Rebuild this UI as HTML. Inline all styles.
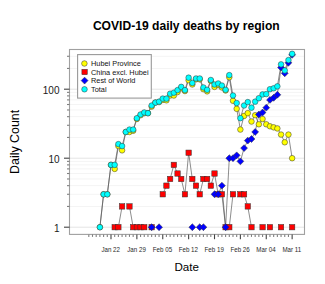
<!DOCTYPE html>
<html><head><meta charset="utf-8"><style>html,body{margin:0;padding:0;width:325px;height:284px;overflow:hidden;background:#fff}</style></head>
<body><svg width="325" height="284" viewBox="0 0 325 284" style="position:absolute;left:0;top:0">
<rect width="325" height="284" fill="#fff"/>
<g stroke="#e6e6e6" stroke-width="1" fill="none"><line x1="69.5" y1="227.2" x2="304.5" y2="227.2" stroke="#e4e4e4"/><line x1="69.5" y1="206.43" x2="304.5" y2="206.43" stroke="#f4f4f4"/><line x1="69.5" y1="194.28" x2="304.5" y2="194.28" stroke="#f4f4f4"/><line x1="69.5" y1="185.66" x2="304.5" y2="185.66" stroke="#f4f4f4"/><line x1="69.5" y1="178.97" x2="304.5" y2="178.97" stroke="#f4f4f4"/><line x1="69.5" y1="173.51" x2="304.5" y2="173.51" stroke="#f4f4f4"/><line x1="69.5" y1="168.89" x2="304.5" y2="168.89" stroke="#f4f4f4"/><line x1="69.5" y1="164.89" x2="304.5" y2="164.89" stroke="#f4f4f4"/><line x1="69.5" y1="161.36" x2="304.5" y2="161.36" stroke="#f4f4f4"/><line x1="69.5" y1="158.2" x2="304.5" y2="158.2" stroke="#e4e4e4"/><line x1="69.5" y1="137.43" x2="304.5" y2="137.43" stroke="#f4f4f4"/><line x1="69.5" y1="125.28" x2="304.5" y2="125.28" stroke="#f4f4f4"/><line x1="69.5" y1="116.66" x2="304.5" y2="116.66" stroke="#f4f4f4"/><line x1="69.5" y1="109.97" x2="304.5" y2="109.97" stroke="#f4f4f4"/><line x1="69.5" y1="104.51" x2="304.5" y2="104.51" stroke="#f4f4f4"/><line x1="69.5" y1="99.89" x2="304.5" y2="99.89" stroke="#f4f4f4"/><line x1="69.5" y1="95.89" x2="304.5" y2="95.89" stroke="#f4f4f4"/><line x1="69.5" y1="92.36" x2="304.5" y2="92.36" stroke="#f4f4f4"/><line x1="69.5" y1="89.2" x2="304.5" y2="89.2" stroke="#e4e4e4"/><line x1="69.5" y1="68.43" x2="304.5" y2="68.43" stroke="#f4f4f4"/><line x1="69.5" y1="56.28" x2="304.5" y2="56.28" stroke="#f4f4f4"/></g>
<g stroke="#5c5c5c" stroke-width="0.7" fill="none"><polyline points="99.9,227.2 103.6,194.28 107.29,194.28 110.99,164.89 114.69,168.89 118.38,146.05 122.08,150.34 125.78,131.97 129.47,131.97 133.17,130.74 136.87,118.99 140.57,115.2 144.26,113.13 147.96,113.13 151.66,106.58 155.35,102.57 159.05,102.11 162.75,99.89 166.44,100.32 170.14,95.51 173.84,95.51 177.54,92.03 181.23,88.31 184.93,91.05 188.63,80.21 192.32,84.5 196.02,79.33 199.72,79.33 203.41,89.2 207.11,91.37 210.81,80.88 214.51,86.89 218.2,85.01 221.9,87.45 225.6,90.42 229.29,77.25 232.99,100.76 236.69,108.8 240.38,129.57 244.08,115.92 247.78,113.13 251.48,121.53 255.17,115.2 258.87,124.3 262.57,118.99 266.26,124.3 269.96,126.29 273.66,127.35 277.36,128.44 281.05,134.57 284.75,142.3 288.45,134.57 292.14,158.2"/><polyline points="114.69,227.2 118.38,227.2 122.08,206.43"/><polyline points="129.47,206.43 133.17,227.2 136.87,227.2 140.57,227.2 144.26,227.2"/><polyline points="162.75,194.28 166.44,185.66 170.14,178.97 173.84,164.89 177.54,173.51 181.23,178.97 184.93,194.28 188.63,152.74 192.32,178.97 196.02,185.66 199.72,194.28 203.41,178.97 207.11,178.97 210.81,185.66 214.51,173.51 218.2,194.28 221.9,194.28 225.6,227.2 229.29,227.2 232.99,194.28"/><polyline points="240.38,194.28 244.08,194.28 247.78,206.43 251.48,227.2"/><polyline points="199.72,227.2 203.41,227.2"/><polyline points="214.51,194.28 218.2,194.28 221.9,185.66 225.6,227.2 229.29,158.2 232.99,158.2 236.69,155.34 240.38,161.36 244.08,148.12 247.78,140.59 251.48,138.97 255.17,131.97 258.87,114.49 262.57,112.47 266.26,107.66 269.96,99.89 273.66,97.82 277.36,94.78 281.05,67.54 284.75,73.3 288.45,62.72 292.14,54.82"/><polyline points="99.9,227.2 103.6,194.28 107.29,194.28 110.99,164.89 114.69,164.89 118.38,144.12 122.08,146.05 125.78,131.97 129.47,129.57 133.17,129.57 136.87,118.19 140.57,114.49 144.26,112.47 147.96,113.13 151.66,105.52 155.35,102.57 159.05,101.65 162.75,98.63 166.44,98.63 170.14,93.72 173.84,92.69 177.54,90.11 181.23,86.89 184.93,90.11 188.63,77.66 192.32,83 196.02,78.48 199.72,78.48 203.41,87.45 207.11,89.81 210.81,79.99 214.51,84.5 218.2,83.49 221.9,85.54 225.6,89.81 229.29,75.12 232.99,95.51 236.69,103.05 240.38,118.19 244.08,105.52 247.78,102.11 251.48,107.66 255.17,101.65 258.87,98.22 262.57,94.42 266.26,94.07 269.96,89.2 273.66,88.31 277.36,86.34 281.05,64.37 284.75,70.44 288.45,60.11 292.14,53.79"/></g>
<g stroke="#333333" stroke-width="0.5"><circle cx="99.9" cy="227.2" r="2.8" fill="#ffff00"/><circle cx="103.6" cy="194.28" r="2.8" fill="#ffff00"/><circle cx="107.29" cy="194.28" r="2.8" fill="#ffff00"/><circle cx="110.99" cy="164.89" r="2.8" fill="#ffff00"/><circle cx="114.69" cy="168.89" r="2.8" fill="#ffff00"/><circle cx="118.38" cy="146.05" r="2.8" fill="#ffff00"/><circle cx="122.08" cy="150.34" r="2.8" fill="#ffff00"/><circle cx="125.78" cy="131.97" r="2.8" fill="#ffff00"/><circle cx="129.47" cy="131.97" r="2.8" fill="#ffff00"/><circle cx="133.17" cy="130.74" r="2.8" fill="#ffff00"/><circle cx="136.87" cy="118.99" r="2.8" fill="#ffff00"/><circle cx="140.57" cy="115.2" r="2.8" fill="#ffff00"/><circle cx="144.26" cy="113.13" r="2.8" fill="#ffff00"/><circle cx="147.96" cy="113.13" r="2.8" fill="#ffff00"/><circle cx="151.66" cy="106.58" r="2.8" fill="#ffff00"/><circle cx="155.35" cy="102.57" r="2.8" fill="#ffff00"/><circle cx="159.05" cy="102.11" r="2.8" fill="#ffff00"/><circle cx="162.75" cy="99.89" r="2.8" fill="#ffff00"/><circle cx="166.44" cy="100.32" r="2.8" fill="#ffff00"/><circle cx="170.14" cy="95.51" r="2.8" fill="#ffff00"/><circle cx="173.84" cy="95.51" r="2.8" fill="#ffff00"/><circle cx="177.54" cy="92.03" r="2.8" fill="#ffff00"/><circle cx="181.23" cy="88.31" r="2.8" fill="#ffff00"/><circle cx="184.93" cy="91.05" r="2.8" fill="#ffff00"/><circle cx="188.63" cy="80.21" r="2.8" fill="#ffff00"/><circle cx="192.32" cy="84.5" r="2.8" fill="#ffff00"/><circle cx="196.02" cy="79.33" r="2.8" fill="#ffff00"/><circle cx="199.72" cy="79.33" r="2.8" fill="#ffff00"/><circle cx="203.41" cy="89.2" r="2.8" fill="#ffff00"/><circle cx="207.11" cy="91.37" r="2.8" fill="#ffff00"/><circle cx="210.81" cy="80.88" r="2.8" fill="#ffff00"/><circle cx="214.51" cy="86.89" r="2.8" fill="#ffff00"/><circle cx="218.2" cy="85.01" r="2.8" fill="#ffff00"/><circle cx="221.9" cy="87.45" r="2.8" fill="#ffff00"/><circle cx="225.6" cy="90.42" r="2.8" fill="#ffff00"/><circle cx="229.29" cy="77.25" r="2.8" fill="#ffff00"/><circle cx="232.99" cy="100.76" r="2.8" fill="#ffff00"/><circle cx="236.69" cy="108.8" r="2.8" fill="#ffff00"/><circle cx="240.38" cy="129.57" r="2.8" fill="#ffff00"/><circle cx="244.08" cy="115.92" r="2.8" fill="#ffff00"/><circle cx="247.78" cy="113.13" r="2.8" fill="#ffff00"/><circle cx="251.48" cy="121.53" r="2.8" fill="#ffff00"/><circle cx="255.17" cy="115.2" r="2.8" fill="#ffff00"/><circle cx="258.87" cy="124.3" r="2.8" fill="#ffff00"/><circle cx="262.57" cy="118.99" r="2.8" fill="#ffff00"/><circle cx="266.26" cy="124.3" r="2.8" fill="#ffff00"/><circle cx="269.96" cy="126.29" r="2.8" fill="#ffff00"/><circle cx="273.66" cy="127.35" r="2.8" fill="#ffff00"/><circle cx="277.36" cy="128.44" r="2.8" fill="#ffff00"/><circle cx="281.05" cy="134.57" r="2.8" fill="#ffff00"/><circle cx="284.75" cy="142.3" r="2.8" fill="#ffff00"/><circle cx="288.45" cy="134.57" r="2.8" fill="#ffff00"/><circle cx="292.14" cy="158.2" r="2.8" fill="#ffff00"/><rect x="111.99" y="224.5" width="5.4" height="5.4" fill="#ff0000"/><rect x="115.68" y="224.5" width="5.4" height="5.4" fill="#ff0000"/><rect x="119.38" y="203.73" width="5.4" height="5.4" fill="#ff0000"/><rect x="126.77" y="203.73" width="5.4" height="5.4" fill="#ff0000"/><rect x="130.47" y="224.5" width="5.4" height="5.4" fill="#ff0000"/><rect x="134.17" y="224.5" width="5.4" height="5.4" fill="#ff0000"/><rect x="137.87" y="224.5" width="5.4" height="5.4" fill="#ff0000"/><rect x="141.56" y="224.5" width="5.4" height="5.4" fill="#ff0000"/><rect x="148.96" y="224.5" width="5.4" height="5.4" fill="#ff0000"/><rect x="160.05" y="191.58" width="5.4" height="5.4" fill="#ff0000"/><rect x="163.75" y="182.96" width="5.4" height="5.4" fill="#ff0000"/><rect x="167.44" y="176.27" width="5.4" height="5.4" fill="#ff0000"/><rect x="171.14" y="162.19" width="5.4" height="5.4" fill="#ff0000"/><rect x="174.84" y="170.81" width="5.4" height="5.4" fill="#ff0000"/><rect x="178.53" y="176.27" width="5.4" height="5.4" fill="#ff0000"/><rect x="182.23" y="191.58" width="5.4" height="5.4" fill="#ff0000"/><rect x="185.93" y="150.04" width="5.4" height="5.4" fill="#ff0000"/><rect x="189.62" y="176.27" width="5.4" height="5.4" fill="#ff0000"/><rect x="193.32" y="182.96" width="5.4" height="5.4" fill="#ff0000"/><rect x="197.02" y="191.58" width="5.4" height="5.4" fill="#ff0000"/><rect x="200.72" y="176.27" width="5.4" height="5.4" fill="#ff0000"/><rect x="204.41" y="176.27" width="5.4" height="5.4" fill="#ff0000"/><rect x="208.11" y="182.96" width="5.4" height="5.4" fill="#ff0000"/><rect x="211.81" y="170.81" width="5.4" height="5.4" fill="#ff0000"/><rect x="215.5" y="191.58" width="5.4" height="5.4" fill="#ff0000"/><rect x="219.2" y="191.58" width="5.4" height="5.4" fill="#ff0000"/><rect x="222.9" y="224.5" width="5.4" height="5.4" fill="#ff0000"/><rect x="226.59" y="224.5" width="5.4" height="5.4" fill="#ff0000"/><rect x="230.29" y="191.58" width="5.4" height="5.4" fill="#ff0000"/><rect x="237.69" y="191.58" width="5.4" height="5.4" fill="#ff0000"/><rect x="241.38" y="191.58" width="5.4" height="5.4" fill="#ff0000"/><rect x="245.08" y="203.73" width="5.4" height="5.4" fill="#ff0000"/><rect x="248.78" y="224.5" width="5.4" height="5.4" fill="#ff0000"/><rect x="259.87" y="224.5" width="5.4" height="5.4" fill="#ff0000"/><rect x="267.26" y="224.5" width="5.4" height="5.4" fill="#ff0000"/><rect x="278.35" y="224.5" width="5.4" height="5.4" fill="#ff0000"/><rect x="289.44" y="224.5" width="5.4" height="5.4" fill="#ff0000"/><path d="M151.66 223.75L155.11 227.2L151.66 230.65L148.21 227.2Z" fill="#0000ff"/><path d="M159.05 223.75L162.5 227.2L159.05 230.65L155.6 227.2Z" fill="#0000ff"/><path d="M192.32 223.75L195.77 227.2L192.32 230.65L188.87 227.2Z" fill="#0000ff"/><path d="M199.72 223.75L203.17 227.2L199.72 230.65L196.27 227.2Z" fill="#0000ff"/><path d="M203.41 223.75L206.86 227.2L203.41 230.65L199.97 227.2Z" fill="#0000ff"/><path d="M214.51 190.83L217.96 194.28L214.51 197.73L211.06 194.28Z" fill="#0000ff"/><path d="M218.2 190.83L221.65 194.28L218.2 197.73L214.75 194.28Z" fill="#0000ff"/><path d="M221.9 182.21L225.35 185.66L221.9 189.11L218.45 185.66Z" fill="#0000ff"/><path d="M225.6 223.75L229.05 227.2L225.6 230.65L222.15 227.2Z" fill="#0000ff"/><path d="M229.29 154.75L232.74 158.2L229.29 161.65L225.84 158.2Z" fill="#0000ff"/><path d="M232.99 154.75L236.44 158.2L232.99 161.65L229.54 158.2Z" fill="#0000ff"/><path d="M236.69 151.89L240.14 155.34L236.69 158.79L233.24 155.34Z" fill="#0000ff"/><path d="M240.38 157.91L243.83 161.36L240.38 164.81L236.94 161.36Z" fill="#0000ff"/><path d="M244.08 144.67L247.53 148.12L244.08 151.57L240.63 148.12Z" fill="#0000ff"/><path d="M247.78 137.14L251.23 140.59L247.78 144.04L244.33 140.59Z" fill="#0000ff"/><path d="M251.48 135.52L254.93 138.97L251.48 142.42L248.03 138.97Z" fill="#0000ff"/><path d="M255.17 128.52L258.62 131.97L255.17 135.42L251.72 131.97Z" fill="#0000ff"/><path d="M258.87 111.04L262.32 114.49L258.87 117.94L255.42 114.49Z" fill="#0000ff"/><path d="M262.57 109.02L266.02 112.47L262.57 115.92L259.12 112.47Z" fill="#0000ff"/><path d="M266.26 104.21L269.71 107.66L266.26 111.11L262.81 107.66Z" fill="#0000ff"/><path d="M269.96 96.44L273.41 99.89L269.96 103.34L266.51 99.89Z" fill="#0000ff"/><path d="M273.66 94.37L277.11 97.82L273.66 101.27L270.21 97.82Z" fill="#0000ff"/><path d="M277.36 91.33L280.81 94.78L277.36 98.23L273.91 94.78Z" fill="#0000ff"/><path d="M281.05 64.09L284.5 67.54L281.05 70.99L277.6 67.54Z" fill="#0000ff"/><path d="M284.75 69.85L288.2 73.3L284.75 76.75L281.3 73.3Z" fill="#0000ff"/><path d="M288.45 59.27L291.9 62.72L288.45 66.17L285 62.72Z" fill="#0000ff"/><path d="M292.14 51.37L295.59 54.82L292.14 58.27L288.69 54.82Z" fill="#0000ff"/><circle cx="99.9" cy="227.2" r="2.8" fill="#00ffff"/><circle cx="103.6" cy="194.28" r="2.8" fill="#00ffff"/><circle cx="107.29" cy="194.28" r="2.8" fill="#00ffff"/><circle cx="110.99" cy="164.89" r="2.8" fill="#00ffff"/><circle cx="114.69" cy="164.89" r="2.8" fill="#00ffff"/><circle cx="118.38" cy="144.12" r="2.8" fill="#00ffff"/><circle cx="122.08" cy="146.05" r="2.8" fill="#00ffff"/><circle cx="125.78" cy="131.97" r="2.8" fill="#00ffff"/><circle cx="129.47" cy="129.57" r="2.8" fill="#00ffff"/><circle cx="133.17" cy="129.57" r="2.8" fill="#00ffff"/><circle cx="136.87" cy="118.19" r="2.8" fill="#00ffff"/><circle cx="140.57" cy="114.49" r="2.8" fill="#00ffff"/><circle cx="144.26" cy="112.47" r="2.8" fill="#00ffff"/><circle cx="147.96" cy="113.13" r="2.8" fill="#00ffff"/><circle cx="151.66" cy="105.52" r="2.8" fill="#00ffff"/><circle cx="155.35" cy="102.57" r="2.8" fill="#00ffff"/><circle cx="159.05" cy="101.65" r="2.8" fill="#00ffff"/><circle cx="162.75" cy="98.63" r="2.8" fill="#00ffff"/><circle cx="166.44" cy="98.63" r="2.8" fill="#00ffff"/><circle cx="170.14" cy="93.72" r="2.8" fill="#00ffff"/><circle cx="173.84" cy="92.69" r="2.8" fill="#00ffff"/><circle cx="177.54" cy="90.11" r="2.8" fill="#00ffff"/><circle cx="181.23" cy="86.89" r="2.8" fill="#00ffff"/><circle cx="184.93" cy="90.11" r="2.8" fill="#00ffff"/><circle cx="188.63" cy="77.66" r="2.8" fill="#00ffff"/><circle cx="192.32" cy="83" r="2.8" fill="#00ffff"/><circle cx="196.02" cy="78.48" r="2.8" fill="#00ffff"/><circle cx="199.72" cy="78.48" r="2.8" fill="#00ffff"/><circle cx="203.41" cy="87.45" r="2.8" fill="#00ffff"/><circle cx="207.11" cy="89.81" r="2.8" fill="#00ffff"/><circle cx="210.81" cy="79.99" r="2.8" fill="#00ffff"/><circle cx="214.51" cy="84.5" r="2.8" fill="#00ffff"/><circle cx="218.2" cy="83.49" r="2.8" fill="#00ffff"/><circle cx="221.9" cy="85.54" r="2.8" fill="#00ffff"/><circle cx="225.6" cy="89.81" r="2.8" fill="#00ffff"/><circle cx="229.29" cy="75.12" r="2.8" fill="#00ffff"/><circle cx="232.99" cy="95.51" r="2.8" fill="#00ffff"/><circle cx="236.69" cy="103.05" r="2.8" fill="#00ffff"/><circle cx="240.38" cy="118.19" r="2.8" fill="#00ffff"/><circle cx="244.08" cy="105.52" r="2.8" fill="#00ffff"/><circle cx="247.78" cy="102.11" r="2.8" fill="#00ffff"/><circle cx="251.48" cy="107.66" r="2.8" fill="#00ffff"/><circle cx="255.17" cy="101.65" r="2.8" fill="#00ffff"/><circle cx="258.87" cy="98.22" r="2.8" fill="#00ffff"/><circle cx="262.57" cy="94.42" r="2.8" fill="#00ffff"/><circle cx="266.26" cy="94.07" r="2.8" fill="#00ffff"/><circle cx="269.96" cy="89.2" r="2.8" fill="#00ffff"/><circle cx="273.66" cy="88.31" r="2.8" fill="#00ffff"/><circle cx="277.36" cy="86.34" r="2.8" fill="#00ffff"/><circle cx="281.05" cy="64.37" r="2.8" fill="#00ffff"/><circle cx="284.75" cy="70.44" r="2.8" fill="#00ffff"/><circle cx="288.45" cy="60.11" r="2.8" fill="#00ffff"/><circle cx="292.14" cy="53.79" r="2.8" fill="#00ffff"/></g>
<rect x="69.5" y="49.5" width="235" height="184.9" fill="none" stroke="#a0a0a0" stroke-width="1.1"/>
<g stroke="#555" stroke-width="1.1"><line x1="64" y1="227.2" x2="69.5" y2="227.2" stroke="#444"/><line x1="67" y1="206.43" x2="69.5" y2="206.43" stroke="#808080"/><line x1="67" y1="194.28" x2="69.5" y2="194.28" stroke="#808080"/><line x1="67" y1="185.66" x2="69.5" y2="185.66" stroke="#808080"/><line x1="67" y1="178.97" x2="69.5" y2="178.97" stroke="#808080"/><line x1="67" y1="173.51" x2="69.5" y2="173.51" stroke="#808080"/><line x1="67" y1="168.89" x2="69.5" y2="168.89" stroke="#808080"/><line x1="67" y1="164.89" x2="69.5" y2="164.89" stroke="#808080"/><line x1="67" y1="161.36" x2="69.5" y2="161.36" stroke="#808080"/><line x1="64" y1="158.2" x2="69.5" y2="158.2" stroke="#444"/><line x1="67" y1="137.43" x2="69.5" y2="137.43" stroke="#808080"/><line x1="67" y1="125.28" x2="69.5" y2="125.28" stroke="#808080"/><line x1="67" y1="116.66" x2="69.5" y2="116.66" stroke="#808080"/><line x1="67" y1="109.97" x2="69.5" y2="109.97" stroke="#808080"/><line x1="67" y1="104.51" x2="69.5" y2="104.51" stroke="#808080"/><line x1="67" y1="99.89" x2="69.5" y2="99.89" stroke="#808080"/><line x1="67" y1="95.89" x2="69.5" y2="95.89" stroke="#808080"/><line x1="67" y1="92.36" x2="69.5" y2="92.36" stroke="#808080"/><line x1="64" y1="89.2" x2="69.5" y2="89.2" stroke="#444"/><line x1="67" y1="68.43" x2="69.5" y2="68.43" stroke="#808080"/><line x1="67" y1="56.28" x2="69.5" y2="56.28" stroke="#808080"/><line x1="88.81" y1="234.4" x2="88.81" y2="236.9" stroke="#808080"/><line x1="92.5" y1="234.4" x2="92.5" y2="236.9" stroke="#808080"/><line x1="96.2" y1="234.4" x2="96.2" y2="236.9" stroke="#808080"/><line x1="99.9" y1="234.4" x2="99.9" y2="236.9" stroke="#808080"/><line x1="103.6" y1="234.4" x2="103.6" y2="236.9" stroke="#808080"/><line x1="107.29" y1="234.4" x2="107.29" y2="236.9" stroke="#808080"/><line x1="110.99" y1="234.4" x2="110.99" y2="239.2" stroke="#444"/><line x1="114.69" y1="234.4" x2="114.69" y2="236.9" stroke="#808080"/><line x1="118.38" y1="234.4" x2="118.38" y2="236.9" stroke="#808080"/><line x1="122.08" y1="234.4" x2="122.08" y2="236.9" stroke="#808080"/><line x1="125.78" y1="234.4" x2="125.78" y2="236.9" stroke="#808080"/><line x1="129.47" y1="234.4" x2="129.47" y2="236.9" stroke="#808080"/><line x1="133.17" y1="234.4" x2="133.17" y2="236.9" stroke="#808080"/><line x1="136.87" y1="234.4" x2="136.87" y2="239.2" stroke="#444"/><line x1="140.57" y1="234.4" x2="140.57" y2="236.9" stroke="#808080"/><line x1="144.26" y1="234.4" x2="144.26" y2="236.9" stroke="#808080"/><line x1="147.96" y1="234.4" x2="147.96" y2="236.9" stroke="#808080"/><line x1="151.66" y1="234.4" x2="151.66" y2="236.9" stroke="#808080"/><line x1="155.35" y1="234.4" x2="155.35" y2="236.9" stroke="#808080"/><line x1="159.05" y1="234.4" x2="159.05" y2="236.9" stroke="#808080"/><line x1="162.75" y1="234.4" x2="162.75" y2="239.2" stroke="#444"/><line x1="166.44" y1="234.4" x2="166.44" y2="236.9" stroke="#808080"/><line x1="170.14" y1="234.4" x2="170.14" y2="236.9" stroke="#808080"/><line x1="173.84" y1="234.4" x2="173.84" y2="236.9" stroke="#808080"/><line x1="177.54" y1="234.4" x2="177.54" y2="236.9" stroke="#808080"/><line x1="181.23" y1="234.4" x2="181.23" y2="236.9" stroke="#808080"/><line x1="184.93" y1="234.4" x2="184.93" y2="236.9" stroke="#808080"/><line x1="188.63" y1="234.4" x2="188.63" y2="239.2" stroke="#444"/><line x1="192.32" y1="234.4" x2="192.32" y2="236.9" stroke="#808080"/><line x1="196.02" y1="234.4" x2="196.02" y2="236.9" stroke="#808080"/><line x1="199.72" y1="234.4" x2="199.72" y2="236.9" stroke="#808080"/><line x1="203.41" y1="234.4" x2="203.41" y2="236.9" stroke="#808080"/><line x1="207.11" y1="234.4" x2="207.11" y2="236.9" stroke="#808080"/><line x1="210.81" y1="234.4" x2="210.81" y2="236.9" stroke="#808080"/><line x1="214.51" y1="234.4" x2="214.51" y2="239.2" stroke="#444"/><line x1="218.2" y1="234.4" x2="218.2" y2="236.9" stroke="#808080"/><line x1="221.9" y1="234.4" x2="221.9" y2="236.9" stroke="#808080"/><line x1="225.6" y1="234.4" x2="225.6" y2="236.9" stroke="#808080"/><line x1="229.29" y1="234.4" x2="229.29" y2="236.9" stroke="#808080"/><line x1="232.99" y1="234.4" x2="232.99" y2="236.9" stroke="#808080"/><line x1="236.69" y1="234.4" x2="236.69" y2="236.9" stroke="#808080"/><line x1="240.38" y1="234.4" x2="240.38" y2="239.2" stroke="#444"/><line x1="244.08" y1="234.4" x2="244.08" y2="236.9" stroke="#808080"/><line x1="247.78" y1="234.4" x2="247.78" y2="236.9" stroke="#808080"/><line x1="251.48" y1="234.4" x2="251.48" y2="236.9" stroke="#808080"/><line x1="255.17" y1="234.4" x2="255.17" y2="236.9" stroke="#808080"/><line x1="258.87" y1="234.4" x2="258.87" y2="236.9" stroke="#808080"/><line x1="262.57" y1="234.4" x2="262.57" y2="236.9" stroke="#808080"/><line x1="266.26" y1="234.4" x2="266.26" y2="239.2" stroke="#444"/><line x1="269.96" y1="234.4" x2="269.96" y2="236.9" stroke="#808080"/><line x1="273.66" y1="234.4" x2="273.66" y2="236.9" stroke="#808080"/><line x1="277.36" y1="234.4" x2="277.36" y2="236.9" stroke="#808080"/><line x1="281.05" y1="234.4" x2="281.05" y2="236.9" stroke="#808080"/><line x1="284.75" y1="234.4" x2="284.75" y2="236.9" stroke="#808080"/><line x1="288.45" y1="234.4" x2="288.45" y2="236.9" stroke="#808080"/><line x1="292.14" y1="234.4" x2="292.14" y2="239.2" stroke="#444"/></g>
<g font-family="Liberation Sans" font-size="10" fill="#1a1a1a" text-anchor="end">
<text x="59.5" y="93.9">100</text><text x="59.5" y="162.6">10</text><text x="59.5" y="231.6">1</text></g>
<g font-family="Liberation Sans" font-size="7" fill="#2a2a2a" text-anchor="middle"><text transform="translate(110.69,252.2) scale(0.886,1)">Jan 22</text><text transform="translate(136.57,252.2) scale(0.886,1)">Jan 29</text><text transform="translate(162.45,252.2) scale(0.886,1)">Feb 05</text><text transform="translate(188.33,252.2) scale(0.886,1)">Feb 12</text><text transform="translate(214.21,252.2) scale(0.886,1)">Feb 19</text><text transform="translate(240.08,252.2) scale(0.886,1)">Feb 26</text><text transform="translate(265.96,252.2) scale(0.886,1)">Mar 04</text><text transform="translate(291.84,252.2) scale(0.886,1)">Mar 11</text></g>
<rect x="77.6" y="54.6" width="73.7" height="43.5" fill="#fff" stroke="#999" stroke-width="1.1"/>
<g stroke="#333333" stroke-width="0.5">
<circle cx="84.4" cy="63.5" r="2.8" fill="#ffff00"/>
<rect x="81.9" y="69.3" width="5.4" height="5.4" fill="#ff0000"/>
<path d="M84.6 77.15L88.05 80.6L84.6 84.05L81.15 80.6Z" fill="#0000ff"/>
<circle cx="84.5" cy="89.3" r="2.8" fill="#00ffff"/>
</g>
<g font-family="Liberation Sans" font-size="7.35" fill="#111">
<text x="91" y="66.4">Hubei Province</text><text x="91" y="74.6">China excl. Hubei</text><text x="91" y="83.3">Rest of World</text><text x="91" y="91.9">Total</text></g>
<text x="186.3" y="29.8" font-family="Liberation Sans" font-size="12.1" font-weight="bold" fill="#000" text-anchor="middle">COVID-19 daily deaths by region</text>
<text x="186.7" y="270.95" font-family="Liberation Sans" font-size="11.6" fill="#000" text-anchor="middle">Date</text>
<text transform="translate(19.0,141.9) rotate(-90)" font-family="Liberation Sans" font-size="12.4" fill="#000" text-anchor="middle">Daily Count</text>
</svg></body></html>
